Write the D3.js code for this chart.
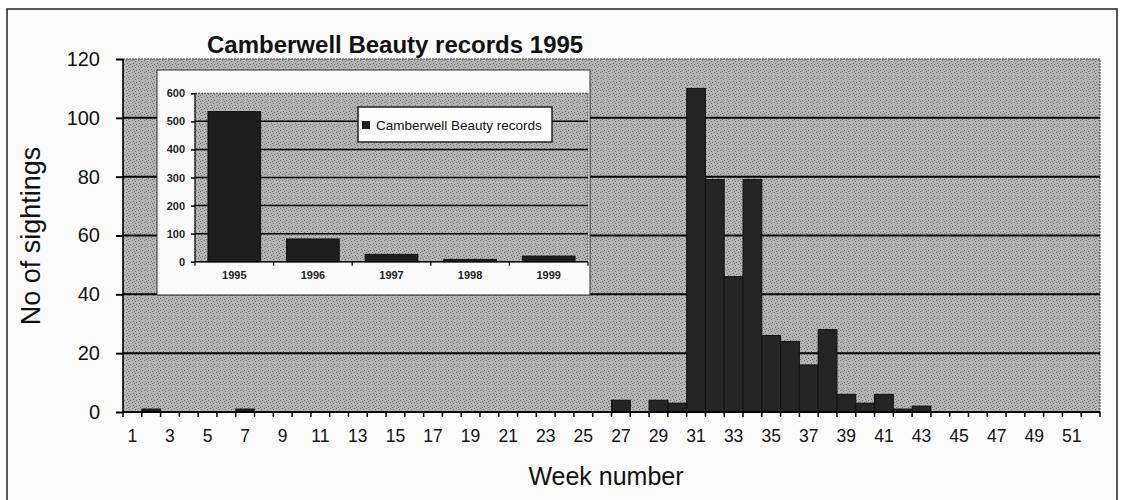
<!DOCTYPE html>
<html><head><meta charset="utf-8">
<script src="https://cdn.jsdelivr.net/npm/d3@7"></script>
<style>
body{margin:0;background:#fff;}
svg{display:block;font-family:"Liberation Sans",Arial,Helvetica,sans-serif;}
</style>
</head><body>
<svg id="c" width="1122" height="500"></svg>
<script>
// ---- data ----
const weeks = d3.range(1, 53);
const sightings = [0,1,0,0,0,0,1,0,0,0, 0,0,0,0,0,0,0,0,0,0, 0,0,0,0,0,0,4,0,4,3,
                   110,79,46,79,26,24,16,28,6,3, 6,1,2,0,0,0,0,0,0,0, 0,0];
const weekLabels = [1,3,5,7,9,11,13,15,17,19,21,23,25,27,29,31,33,35,37,39,41,43,45,47,49,51];
const yTicks = [0,20,40,60,80,100,120];
const years = ["1995","1996","1997","1998","1999"];
const yearTotals = [535,81,26,8,20];
const insetTicks = [0,100,200,300,400,500,600];
const titleText = "Camberwell Beauty records 1995";
const legendText = "Camberwell Beauty records";

const svg = d3.select("#c");
const defs = svg.append("defs");
const pat = defs.append("pattern").attr("id","tex").attr("patternUnits","userSpaceOnUse")
  .attr("width",6).attr("height",6);
pat.append("rect").attr("width",6).attr("height",6).attr("fill","#b3b3b3");
[[0,0],[3,1],[1,3],[4,4],[2,5]].forEach(p=>pat.append("rect").attr("x",p[0]).attr("y",p[1])
  .attr("width",1).attr("height",1).attr("fill","#737373"));

// outer frame
svg.append("rect").attr("x",7).attr("y",9).attr("width",1110).attr("height",500)
  .attr("fill","#fcfcfc").attr("stroke","#222").attr("stroke-width",1.5);

// ---- main chart ----
const X0=123, X1=1100, Y0=59, Y1=412;
const x = d3.scaleBand().domain(weeks).range([X0,X1]).padding(0);
const y = d3.scaleLinear().domain([0,120]).range([Y1,Y0]);

svg.append("rect").attr("x",X0).attr("y",Y0).attr("width",X1-X0).attr("height",Y1-Y0)
  .attr("fill","url(#tex)").attr("stroke","#444").attr("stroke-width",1).attr("stroke-dasharray","2,1");

svg.append("g").selectAll("line").data(yTicks.filter(d=>d>0 && d<120)).join("line")
  .attr("x1",X0).attr("x2",X1).attr("y1",d=>y(d)).attr("y2",d=>y(d))
  .attr("stroke","#000").attr("stroke-width",2);

svg.append("g").selectAll("rect").data(weeks.map((w,i)=>({w,v:sightings[i]})).filter(d=>d.v>0)).join("rect")
  .attr("x",d=>x(d.w)).attr("width",x.bandwidth())
  .attr("y",d=>y(d.v)).attr("height",d=>y(0)-y(d.v))
  .attr("fill","#242424").attr("stroke","#111").attr("stroke-width",1);

// y axis
const ya = svg.append("g").attr("transform",`translate(${X0},0)`)
  .call(d3.axisLeft(y).tickValues(yTicks).tickSize(7).tickPadding(16));
ya.select(".domain").remove();
ya.selectAll("line").attr("stroke","#000").attr("stroke-width",2);
ya.selectAll("text").attr("font-size",20).attr("fill","#111").attr("font-family","Liberation Sans, Arial, sans-serif");
svg.append("line").attr("x1",X0).attr("x2",X0).attr("y1",Y0).attr("y2",Y1).attr("stroke","#000").attr("stroke-width",1.5);

// x axis
const xa = svg.append("g").attr("transform",`translate(0,${Y1})`)
  .call(d3.axisBottom(x).tickValues(weekLabels).tickSize(0).tickPadding(18));
xa.select(".domain").remove();
xa.selectAll("text").attr("font-size",17.5).attr("fill","#111").attr("font-family","Liberation Sans, Arial, sans-serif");
svg.append("line").attr("x1",X0).attr("x2",X1).attr("y1",Y1).attr("y2",Y1).attr("stroke","#000").attr("stroke-width",2);
svg.append("g").selectAll("line").data(weeks.map(w=>x(w)).concat([X1])).join("line")
  .attr("x1",d=>d).attr("x2",d=>d).attr("y1",Y1).attr("y2",Y1+5)
  .attr("stroke","#000").attr("stroke-width",1.5);

// axis titles
svg.append("text").attr("transform","translate(40,236) rotate(-90)").attr("text-anchor","middle")
  .attr("font-size",27).attr("fill","#111").text("No of sightings");
svg.append("text").attr("x",606).attr("y",485).attr("text-anchor","middle")
  .attr("font-size",25).attr("fill","#111").text("Week number");

// ---- inset ----
svg.append("rect").attr("x",157).attr("y",70).attr("width",433).attr("height",225)
  .attr("fill","#fbfbfb").attr("stroke","#333").attr("stroke-width",1);
const IX0=195, IX1=588, IY0=93.3, IY1=261.7;
const ix = d3.scaleBand().domain(years).range([IX0,IX1]).paddingInner(0.33).paddingOuter(0.165);
const iy = d3.scaleLinear().domain([0,600]).range([IY1,IY0]);
svg.append("rect").attr("x",IX0).attr("y",IY0).attr("width",IX1-IX0).attr("height",IY1-IY0)
  .attr("fill","url(#tex)").attr("stroke","#444").attr("stroke-width",1).attr("stroke-dasharray","2,1");
svg.append("g").selectAll("line").data(insetTicks.filter(d=>d>0&&d<600)).join("line")
  .attr("x1",IX0).attr("x2",IX1).attr("y1",d=>iy(d)).attr("y2",d=>iy(d))
  .attr("stroke","#000").attr("stroke-width",1.5);
svg.append("g").selectAll("rect").data(years.map((yr,i)=>({yr,v:yearTotals[i]}))).join("rect")
  .attr("x",d=>ix(d.yr)).attr("width",ix.bandwidth())
  .attr("y",d=>iy(d.v)).attr("height",d=>iy(0)-iy(d.v))
  .attr("fill","#1e1e1e").attr("stroke","#111").attr("stroke-width",1);
const iya = svg.append("g").attr("transform",`translate(${IX0},0)`)
  .call(d3.axisLeft(iy).tickValues(insetTicks).tickSize(4).tickPadding(6));
iya.select(".domain").remove();
iya.selectAll("line").attr("stroke","#000").attr("stroke-width",1.5);
iya.selectAll("text").attr("font-size",11).attr("font-weight","bold").attr("fill","#222").attr("font-family","Liberation Sans, Arial, sans-serif");
svg.append("line").attr("x1",IX0).attr("x2",IX0).attr("y1",IY0).attr("y2",IY1).attr("stroke","#000").attr("stroke-width",1);
const ixa = svg.append("g").attr("transform",`translate(0,${IY1})`)
  .call(d3.axisBottom(ix).tickSize(0).tickPadding(10));
ixa.select(".domain").remove();
ixa.selectAll("text").attr("font-size",11).attr("font-weight","bold").attr("fill","#222").attr("font-family","Liberation Sans, Arial, sans-serif");
svg.append("line").attr("x1",IX0).attr("x2",IX1).attr("y1",IY1).attr("y2",IY1).attr("stroke","#000").attr("stroke-width",1.5);
svg.append("g").selectAll("line").data(years.map(yr=>ix(yr)-ix.step()*ix.paddingInner()/2).concat([IX1])).join("line")
  .attr("x1",d=>d).attr("x2",d=>d).attr("y1",IY1).attr("y2",IY1+4)
  .attr("stroke","#000").attr("stroke-width",1.2);

// legend
const lg = svg.append("g");
lg.append("rect").attr("x",358).attr("y",107).attr("width",194).attr("height",35)
  .attr("fill","#fdfdfd").attr("stroke","#222").attr("stroke-width",1.5);
lg.append("rect").attr("x",362).attr("y",121).attr("width",8).attr("height",8).attr("fill","#1e1e1e");
lg.append("text").attr("x",376).attr("y",129.5).attr("font-size",13.5).attr("fill","#111").text(legendText);

// title (drawn last, on top)
svg.append("text").attr("x",207).attr("y",53).attr("font-size",24).attr("font-weight","bold")
  .attr("fill","#111").text(titleText);
</script>
</body></html>
